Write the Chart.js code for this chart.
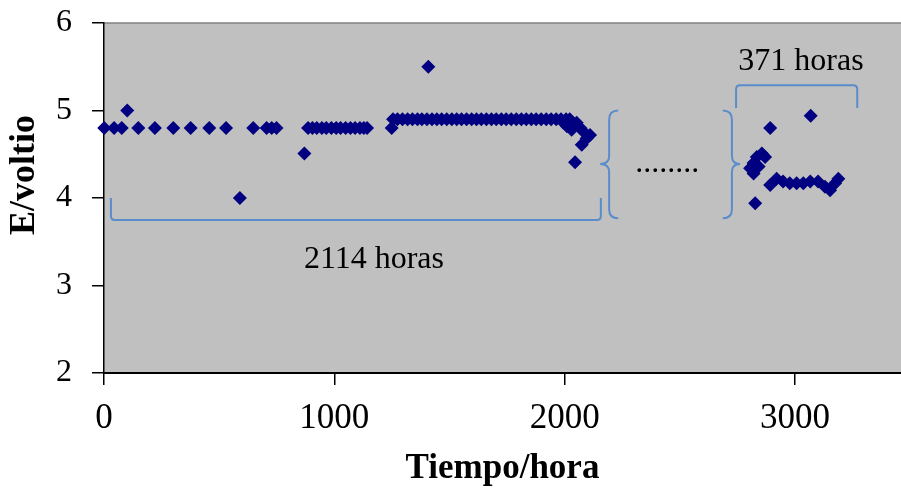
<!DOCTYPE html>
<html>
<head>
<meta charset="utf-8">
<script src="https://cdn.jsdelivr.net/npm/chart.js@4"></script>
<style>
  body { margin: 0; background: #fff; }
  #wrap { width: 901px; height: 490px; }
</style>
</head>
<body>
<div id="wrap"><canvas id="grafico"></canvas></div>
<script>
// tiempo (horas) y potencial (voltios)
var tiempo = [
    1, 44, 77, 101, 149, 221, 301, 376, 457, 530, 590, 648, 706, 728, 749,
    870, 886, 905, 924, 946, 965, 987, 1008, 1027, 1049, 1070, 1090, 1111, 1128, 1142,
    1249, 1408,
    1255, 1274, 1296, 1318, 1339, 1361, 1380, 1402, 1424, 1445, 1466, 1488, 1510, 1531,
    1552, 1574, 1596, 1617, 1638, 1660, 1682, 1703, 1725, 1746, 1768, 1790, 1812, 1833,
    1855, 1876, 1898, 1920, 1941, 1963, 1984, 2006, 2022,
    1995, 2010, 2030, 2052, 2068, 2081, 2110, 2095, 2074, 2045,
    2805, 2820, 2820, 2827, 2834, 2842, 2856, 2870, 2892, 2892, 2920, 2948, 2977, 3007,
    3036, 3066, 3068, 3100, 3130, 3152, 3174, 3188
];
var voltaje = [
    4.8, 4.8, 4.8, 5.0, 4.8, 4.8, 4.8, 4.8, 4.8, 4.8, 4.0, 4.8, 4.8, 4.8, 4.8,
    4.51, 4.8, 4.8, 4.8, 4.8, 4.8, 4.8, 4.8, 4.8, 4.8, 4.8, 4.8, 4.8, 4.8, 4.8,
    4.8, 5.5,
    4.9, 4.9, 4.9, 4.9, 4.9, 4.9, 4.9, 4.9, 4.9, 4.9, 4.9, 4.9, 4.9, 4.9,
    4.9, 4.9, 4.9, 4.9, 4.9, 4.9, 4.9, 4.9, 4.9, 4.9, 4.9, 4.9, 4.9, 4.9,
    4.9, 4.9, 4.9, 4.9, 4.9, 4.9, 4.9, 4.9, 4.9,
    4.86, 4.82, 4.78, 4.86, 4.8, 4.76, 4.72, 4.68, 4.61, 4.41,
    4.34, 4.4, 4.28, 3.94, 4.47, 4.36, 4.51, 4.47, 4.8, 4.15, 4.22, 4.19, 4.17, 4.17,
    4.17, 4.19, 4.94, 4.19, 4.13, 4.09, 4.17, 4.22
];
var ticksX = [0, 1000, 2000, 3000];
var ticksY = [2, 3, 4, 5, 6];

// anotaciones (en unidades de datos)
var corcheteAbajo = { x1: 30, x2: 2157, yExtremo: 4.0, yLinea: 3.75 };
var corcheteArriba = { x1: 2744, x2: 3270, yExtremo: 5.03, yLinea: 5.29 };
var llaveIzq = { punta: 2154, centro: 2193, extremo: 2232, yArriba: 5.0, yMedio: 4.39, yAbajo: 3.77 };
var llaveDer = { punta: 2761, centro: 2726, extremo: 2686, yArriba: 5.0, yMedio: 4.39, yAbajo: 3.77 };
var textos = [
    { texto: '2114 horas', x: 1172, y: 3.2 },
    { texto: '371 horas', x: 3026, y: 5.46 },
    { texto: '........', x: 2445, y: 4.3 }
];

var puntos = tiempo.map(function(t, i) { return { x: t, y: voltaje[i] }; });
var serif = '"Liberation Serif", "Times New Roman", serif';

var fondo = {
    id: 'fondo',
    beforeDraw: function(chart) {
        var a = chart.chartArea, ctx = chart.ctx;
        ctx.save();
        ctx.fillStyle = '#c0c0c0';
        ctx.fillRect(a.left, a.top, a.right - a.left, a.bottom - a.top);
        ctx.strokeStyle = '#808080';
        ctx.lineWidth = 1.5;
        ctx.beginPath();
        ctx.moveTo(a.left, a.top);
        ctx.lineTo(a.right, a.top);
        ctx.stroke();
        ctx.restore();
    }
};

var anotaciones = {
    id: 'anotaciones',
    afterDatasetsDraw: function(chart) {
        var ctx = chart.ctx, sx = chart.scales.x, sy = chart.scales.y;
        var px = function(v) { return sx.getPixelForValue(v); };
        var py = function(v) { return sy.getPixelForValue(v); };
        ctx.save();
        ctx.strokeStyle = '#5a8ccc';
        ctx.lineWidth = 2;

        function corchete(c) {
            var x1 = px(c.x1), x2 = px(c.x2), ye = py(c.yExtremo), yl = py(c.yLinea);
            var r = yl > ye ? 4 : -4;
            ctx.beginPath();
            ctx.moveTo(x1, ye);
            ctx.lineTo(x1, yl - r);
            ctx.quadraticCurveTo(x1, yl, x1 + 4, yl);
            ctx.lineTo(x2 - 4, yl);
            ctx.quadraticCurveTo(x2, yl, x2, yl - r);
            ctx.lineTo(x2, ye);
            ctx.stroke();
        }
        function llave(l) {
            var xp = px(l.punta), xc = px(l.centro), xe = px(l.extremo);
            var y1 = py(l.yArriba), ym = py(l.yMedio), y2 = py(l.yAbajo);
            ctx.beginPath();
            ctx.moveTo(xe, y1);
            ctx.quadraticCurveTo(xc, y1, xc, y1 + 9);
            ctx.lineTo(xc, ym - 8);
            ctx.quadraticCurveTo(xc, ym, xp, ym);
            ctx.quadraticCurveTo(xc, ym, xc, ym + 8);
            ctx.lineTo(xc, y2 - 9);
            ctx.quadraticCurveTo(xc, y2, xe, y2);
            ctx.stroke();
        }
        corchete(corcheteAbajo);
        corchete(corcheteArriba);
        llave(llaveIzq);
        llave(llaveDer);

        ctx.fillStyle = '#000';
        ctx.font = '32px ' + serif;
        ctx.textAlign = 'center';
        ctx.textBaseline = 'alphabetic';
        textos.forEach(function(t) { ctx.fillText(t.texto, px(t.x), py(t.y)); });

        // titulo del eje vertical
        ctx.font = 'bold 36px ' + serif;
        ctx.translate(25, 175);
        ctx.rotate(-Math.PI / 2);
        ctx.textBaseline = 'middle';
        ctx.fillText('E/voltio', 0, 0);
        ctx.restore();
    }
};

new Chart(document.getElementById('grafico'), {
    type: 'scatter',
    data: {
        datasets: [{
            data: puntos,
            backgroundColor: '#000080',
            borderColor: '#000080',
            borderWidth: 0,
            pointStyle: 'rectRot',
            pointRadius: 7,
            pointHoverRadius: 7,
            clip: false
        }]
    },
    options: {
        responsive: true,
        maintainAspectRatio: false,
        animation: false,
        layout: { autoPadding: false, padding: { top: 23, right: 0, left: 0, bottom: 0 } },
        plugins: { legend: { display: false }, tooltip: { enabled: false } },
        scales: {
            x: {
                type: 'linear',
                min: 0,
                max: 3460,
                afterBuildTicks: function(s) { s.ticks = ticksX.map(function(v) { return { value: v }; }); },
                afterFit: function(s) { s.height = 117; s.paddingLeft = 0; s.paddingRight = 0; },
                ticks: {
                    font: { family: serif, size: 35 }, color: '#000', padding: 13, maxRotation: 0,
                    callback: function(v) { return String(v); }
                },
                grid: { display: true, drawOnChartArea: false, drawTicks: true, tickLength: 12, color: '#000', lineWidth: 1.5 },
                border: { display: true, color: '#000', width: 2 },
                title: { display: true, text: 'Tiempo/hora', color: '#000', font: { family: serif, size: 35, weight: 'bold' }, padding: { top: 0, bottom: 0 } }
            },
            y: {
                min: 2,
                max: 6,
                afterBuildTicks: function(s) { s.ticks = ticksY.map(function(v) { return { value: v }; }); },
                afterFit: function(s) { s.width = 104; s.paddingTop = 0; s.paddingBottom = 0; },
                ticks: {
                    font: { family: serif, size: 32 }, color: '#000', padding: 20,
                    callback: function(v) { return String(v); }
                },
                grid: { display: true, drawOnChartArea: false, drawTicks: true, tickLength: 12, color: '#000', lineWidth: 1.5 },
                border: { display: true, color: '#000', width: 1.5 }
            }
        }
    },
    plugins: [fondo, anotaciones]
});
</script>
</body>
</html>
